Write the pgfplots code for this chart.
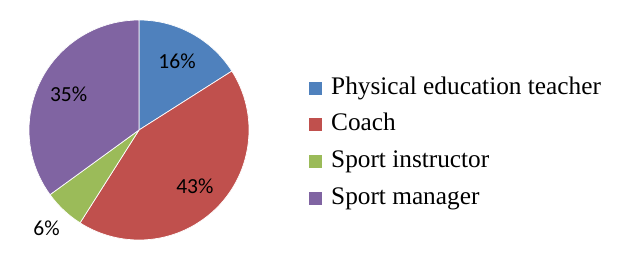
\documentclass[border=0pt]{standalone}
\usepackage{pgfplots}
\usepackage{pgfplotstable}
\pgfplotsset{compat=1.18}
\usepackage{fontspec}
\setmainfont{Liberation Serif}
\newfontfamily\legendfont{Liberation Serif}
\newfontfamily\labelfont{Carlito}
\definecolor{pblue}{HTML}{4F81BD}
\definecolor{pred}{HTML}{C0504D}
\definecolor{pgreen}{HTML}{9BBB59}
\definecolor{ppurple}{HTML}{8064A2}
\pgfplotstableread{
value color labr
16 pblue 79
43 pred 79
6 pgreen 135
35 ppurple 79
}\piedata
\begin{document}
\begin{tikzpicture}
\begin{axis}[
  x=1bp, y=1bp,
  xmin=0, xmax=632, ymin=0, ymax=268,
  hide axis, clip=false,
  legend style={at={(axis cs:306,194)}, anchor=north west, draw=none, fill=none,
    font=\legendfont\fontsize{25.3bp}{27bp}\selectfont, row sep=12.7bp,
    nodes={inner sep=1bp, text height=17bp, text depth=5bp},
    /tikz/every odd column/.append style={column sep=8bp}},
  legend cell align=left,
  legend image code/.code={\fill[#1, draw=none] (0bp,-6.5bp) rectangle (13bp,6.5bp);},
]
\pgfplotsextra{
  \path (axis cs:0,0) rectangle (axis cs:632,268);
  \gdef\angstart{90}
  \pgfplotstablegetrowsof{\piedata}
  \pgfmathtruncatemacro\lastrow{\pgfplotsretval-1}
  \foreach \i in {0,...,\lastrow}{
    \pgfplotstablegetelem{\i}{value}\of\piedata \let\v=\pgfplotsretval
    \pgfplotstablegetelem{\i}{color}\of\piedata \let\c=\pgfplotsretval
    \pgfplotstablegetelem{\i}{labr}\of\piedata \let\lr=\pgfplotsretval
    \pgfmathsetmacro\angend{\angstart-3.6*\v}
    \pgfmathsetmacro\angmid{(\angstart+\angend)/2}
    \pgfmathsetmacro\sx{139+110*cos(\angstart)}
    \pgfmathsetmacro\sy{138+110*sin(\angstart)}
    \pgfmathsetmacro\lx{139+\lr*cos(\angmid)}
    \pgfmathsetmacro\ly{138+\lr*sin(\angmid)}
    \filldraw[fill=\c, draw=white, line width=0.7pt, line join=round]
      (axis cs:139,138) -- (axis cs:\sx,\sy)
      arc[start angle=\angstart, end angle=\angend, radius=110bp] -- cycle;
    \node[font=\labelfont\fontsize{21.5bp}{23bp}\selectfont, text=black] at (axis cs:\lx,\ly) {\v\%};
    \xdef\angstart{\angend}
  }
}
\addlegendimage{fill=pblue}
\addlegendentry{Physical education teacher}
\addlegendimage{fill=pred}
\addlegendentry{Coach}
\addlegendimage{fill=pgreen}
\addlegendentry{Sport instructor}
\addlegendimage{fill=ppurple}
\addlegendentry{Sport manager}
\end{axis}
\end{tikzpicture}
\end{document}
